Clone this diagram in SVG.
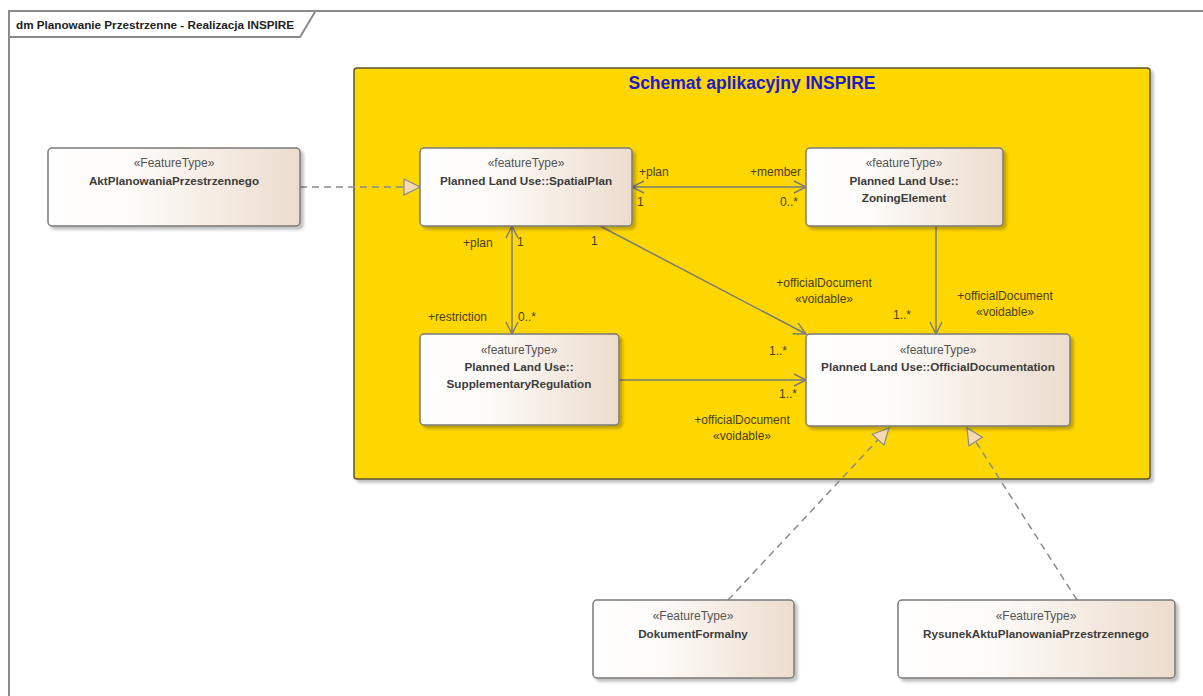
<svg xmlns="http://www.w3.org/2000/svg" width="1203" height="696" viewBox="0 0 1203 696">
<defs>
<linearGradient id="nodeGrad" x1="0" y1="0" x2="1" y2="0">
<stop offset="0" stop-color="#ffffff"/>
<stop offset="0.35" stop-color="#fdfaf7"/>
<stop offset="1" stop-color="#ecdccd"/>
</linearGradient>
<filter id="shadow" x="-10%" y="-10%" width="130%" height="140%">
<feDropShadow dx="3" dy="3" stdDeviation="1.5" flood-color="#000" flood-opacity="0.25"/>
</filter>
<marker id="open" viewBox="0 0 14 14" refX="13" refY="7" markerWidth="14" markerHeight="14" markerUnits="userSpaceOnUse" orient="auto-start-reverse">
<path d="M1,1 L13,7 L1,13" fill="none" stroke="#7a7a7a" stroke-width="1.4"/>
</marker>
<marker id="realize" viewBox="0 0 18 18" refX="17" refY="9" markerWidth="18" markerHeight="18" markerUnits="userSpaceOnUse" orient="auto">
<path d="M1,1 L17,9 L1,17 Z" fill="#f7dbb0" stroke="#8a8a8a" stroke-width="1.2"/>
</marker>
</defs>
<style>
.frame{fill:none;stroke:#8a8a8a;stroke-width:2}
.node{fill:url(#nodeGrad);stroke:#7a7a7a;stroke-width:1.5;filter:url(#shadow)}
.st{font-family:"Liberation Sans",Arial,sans-serif;font-size:12px;fill:#555;text-anchor:middle}
.nm{font-family:"Liberation Sans",Arial,sans-serif;font-size:11.7px;font-weight:bold;fill:#3c3c3c;text-anchor:middle}
.assoc{fill:none;stroke:#7a7a7a;stroke-width:1.5}
.dash{fill:none;stroke:#8a8a8a;stroke-width:1.5;stroke-dasharray:7,5}
.lbl{font-family:"Liberation Sans",Arial,sans-serif;font-size:12px;fill:#4a4020}
.lblm{font-family:"Liberation Sans",Arial,sans-serif;font-size:12px;fill:#4a4020;text-anchor:middle}
</style>
<rect width="1203" height="696" fill="#ffffff"/>
<g id="frame">
<path class="frame" d="M9,700 L9,11 L1210,11"/>
<path class="frame" d="M9,37 L300,37 L315,12"/>
<text x="16" y="29" font-family="Liberation Sans,Arial,sans-serif" font-size="11.7" font-weight="bold" fill="#222">dm Planowanie Przestrzenne - Realizacja INSPIRE</text>
</g>
<g id="package">
<rect x="354" y="68" width="796" height="411" rx="3" fill="#ffd700" stroke="#5a5430" stroke-width="1.5" filter="url(#shadow)"/>
<text x="752" y="89" text-anchor="middle" font-family="Liberation Sans,Arial,sans-serif" font-size="17.5" font-weight="bold" fill="#1c1ccc">Schemat aplikacyjny INSPIRE</text>
</g>
<g id="connectors">
<line class="dash" x1="300" y1="187" x2="420" y2="187" marker-end="url(#realize)"/>
<line class="assoc" x1="632" y1="187" x2="806" y2="187" marker-start="url(#open)" marker-end="url(#open)"/>
<line class="assoc" x1="512" y1="226" x2="512" y2="334" marker-start="url(#open)" marker-end="url(#open)"/>
<line class="assoc" x1="600" y1="226" x2="806" y2="334" marker-end="url(#open)"/>
<line class="assoc" x1="936" y1="226" x2="936" y2="334" marker-end="url(#open)"/>
<line class="assoc" x1="619" y1="380" x2="806" y2="380" marker-end="url(#open)"/>
<line class="dash" x1="728" y1="600" x2="889" y2="428" marker-end="url(#realize)"/>
<line class="dash" x1="1077" y1="600" x2="967" y2="428" marker-end="url(#realize)"/>
<text class="lbl" x="639" y="176">+plan</text>
<text class="lbl" x="637" y="206">1</text>
<text class="lbl" x="750" y="176">+member</text>
<text class="lbl" x="780" y="206">0..*</text>
<text class="lbl" x="463" y="247">+plan</text>
<text class="lbl" x="517" y="246">1</text>
<text class="lbl" x="591" y="245">1</text>
<text class="lbl" x="428" y="321">+restriction</text>
<text class="lbl" x="518" y="321">0..*</text>
<text class="lblm" x="824" y="287">+officialDocument</text>
<text class="lblm" x="824" y="303">«voidable»</text>
<text class="lbl" x="769" y="355">1..*</text>
<text class="lbl" x="893" y="319">1..*</text>
<text class="lblm" x="1005" y="300">+officialDocument</text>
<text class="lblm" x="1005" y="316">«voidable»</text>
<text class="lbl" x="779" y="398">1..*</text>
<text class="lblm" x="742" y="424">+officialDocument</text>
<text class="lblm" x="742" y="440">«voidable»</text>
</g>
<g id="AktPlanowaniaPrzestrzennego">
<rect class="node" x="48" y="148" width="252" height="78" rx="4"/>
<text class="st" x="174" y="167">«FeatureType»</text>
<text class="nm" x="174" y="185">AktPlanowaniaPrzestrzennego</text>
</g>
<g id="SpatialPlan">
<rect class="node" x="420" y="148" width="212" height="78" rx="4"/>
<text class="st" x="526" y="167">«featureType»</text>
<text class="nm" x="526" y="185">Planned Land Use::SpatialPlan</text>
</g>
<g id="ZoningElement">
<rect class="node" x="806" y="148" width="197" height="78" rx="4"/>
<text class="st" x="904" y="167">«featureType»</text>
<text class="nm" x="904" y="185">Planned Land Use::</text>
<text class="nm" x="904" y="202">ZoningElement</text>
</g>
<g id="SupplementaryRegulation">
<rect class="node" x="420" y="334" width="199" height="91" rx="4"/>
<text class="st" x="519" y="354">«featureType»</text>
<text class="nm" x="519" y="371">Planned Land Use::</text>
<text class="nm" x="519" y="388">SupplementaryRegulation</text>
</g>
<g id="OfficialDocumentation">
<rect class="node" x="806" y="334" width="264" height="92" rx="4"/>
<text class="st" x="938" y="354">«featureType»</text>
<text class="nm" x="938" y="371">Planned Land Use::OfficialDocumentation</text>
</g>
<g id="DokumentFormalny">
<rect class="node" x="593" y="600" width="201" height="78" rx="4"/>
<text class="st" x="693" y="620">«FeatureType»</text>
<text class="nm" x="693" y="638">DokumentFormalny</text>
</g>
<g id="RysunekAktuPlanowaniaPrzestrzennego">
<rect class="node" x="898" y="600" width="277" height="78" rx="4"/>
<text class="st" x="1036" y="620">«FeatureType»</text>
<text class="nm" x="1036" y="638">RysunekAktuPlanowaniaPrzestrzennego</text>
</g>
</svg>
